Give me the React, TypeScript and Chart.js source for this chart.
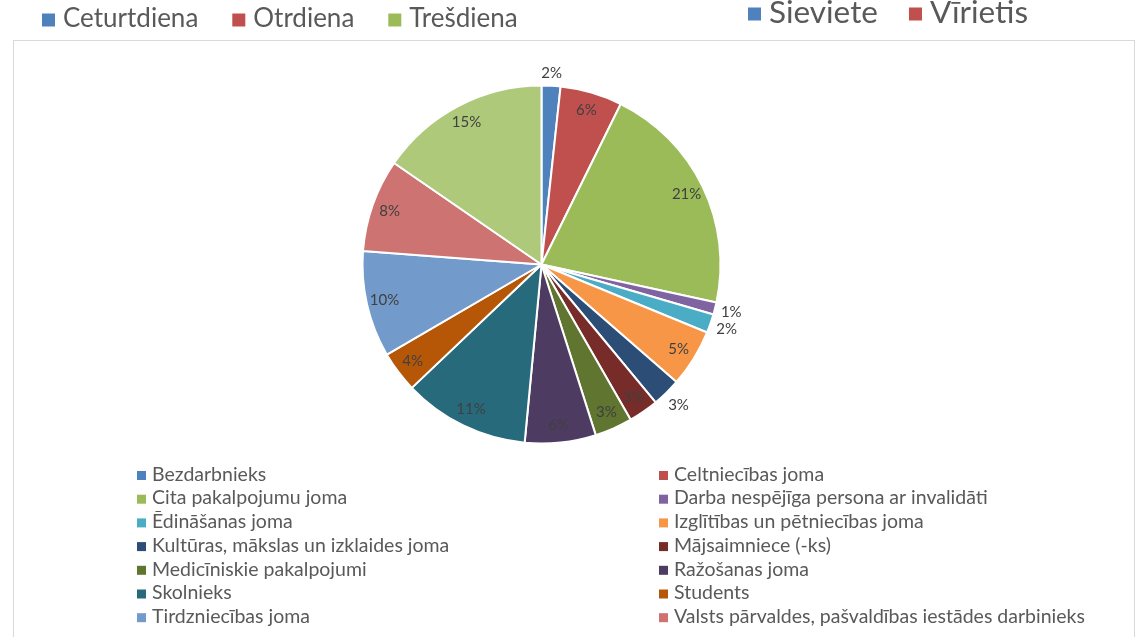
import React, { useEffect, useRef } from 'react';
import { Chart, registerables } from 'chart.js';

Chart.register(...registerables);

// ---- data ----
const categories = [
  'Bezdarbnieks',
  'Celtniecības joma',
  'Cita pakalpojumu joma',
  'Darba nespējīga persona ar invalidāti',
  'Ēdināšanas joma',
  'Izglītības un pētniecības joma',
  'Kultūras, mākslas un izklaides joma',
  'Mājsaimniece (-ks)',
  'Medicīniskie pakalpojumi',
  'Ražošanas joma',
  'Skolnieks',
  'Students',
  'Tirdzniecības joma',
  'Valsts pārvaldes, pašvaldības iestādes darbinieks',
  '', // 15th category: its legend row is cut off in the reference
];
const shares = [1.7, 5.6, 21.1, 1.1, 1.7, 5.2, 2.6, 2.7, 3.4, 6.4, 11.4, 3.7, 9.6, 8.4, 15.4];
const sliceColors = [
  '#4F81BD', '#C0504D', '#9BBB59', '#8064A2', '#4BACC6', '#F79646',
  '#2C4D75', '#772C2A', '#5F7530', '#4D3B62', '#276A7C', '#B65708',
  '#729ACA', '#CD7371', '#AFC97A',
];
const outsideLabels = [0, 3, 4, 6];

const dayLegend = ['Ceturtdiena', 'Otrdiena', 'Trešdiena'];
const dayColors = ['#4F81BD', '#C0504D', '#9BBB59'];
const genderLegend = ['Sieviete', 'Vīrietis'];
const genderColors = ['#4F81BD', '#C0504D'];

const FONT = 'Lato, "Open Sans", sans-serif';

const framePlugin = {
  id: 'frame',
  beforeDraw(chart: any) {
    const ctx = chart.ctx;
    ctx.save();
    ctx.fillStyle = '#ffffff';
    ctx.fillRect(0, 0, chart.width, chart.height);
    ctx.strokeStyle = '#D9D9D9';
    ctx.lineWidth = 1;
    ctx.strokeRect(13.5, 40.5, 1121, 700);

    // cropped legends of neighbouring charts
    const drawRow = (labels: string[], colors: string[], x0: number, cy: number, size: number, sq: number, gap: number) => {
      ctx.font = `${size}px ${FONT}`;
      ctx.textBaseline = 'middle';
      ctx.textAlign = 'left';
      let x = x0;
      labels.forEach((t, i) => {
        ctx.fillStyle = colors[i];
        ctx.fillRect(x, cy - sq / 2 + 1, sq, sq);
        x += sq + 8;
        ctx.fillStyle = '#595959';
        ctx.fillText(t, x, cy);
        x += ctx.measureText(t).width + gap;
      });
    };
    drawRow(dayLegend, dayColors, 42, 19, 26, 13, 34);
    drawRow(genderLegend, genderColors, 748, 13, 31.5, 13, 31);
    ctx.restore();
  },
};

const labelPlugin = {
  id: 'sliceLabels',
  afterDatasetsDraw(chart: any) {
    const ctx = chart.ctx;
    const data = chart.data.datasets[0].data as number[];
    const total = data.reduce((a, b) => a + b, 0);
    const meta = chart.getDatasetMeta(0);
    ctx.save();
    ctx.font = `15px ${FONT}`;
    ctx.fillStyle = '#404040';
    ctx.textAlign = 'center';
    ctx.textBaseline = 'middle';
    meta.data.forEach((arc: any, i: number) => {
      const p = arc.getProps(['x', 'y', 'startAngle', 'endAngle', 'outerRadius'], true);
      const mid = (p.startAngle + p.endAngle) / 2;
      const text = `${Math.round((data[i] / total) * 100)}%`;
      const w = ctx.measureText(text).width;
      const h = 14;
      let r: number;
      if (outsideLabels.includes(i)) {
        r = p.outerRadius + 5 + Math.abs(Math.cos(mid)) * w / 2 + Math.abs(Math.sin(mid)) * h / 2;
      } else {
        r = p.outerRadius * 0.9;
      }
      ctx.fillText(text, p.x + Math.cos(mid) * r, p.y + Math.sin(mid) * r);
    });
    ctx.restore();
  },
};

const legendPlugin = {
  id: 'twoColLegend',
  afterDraw(chart: any) {
    const ctx = chart.ctx;
    const labels = chart.data.labels as string[];
    const colors = chart.data.datasets[0].backgroundColor as string[];
    ctx.save();
    ctx.font = `19.5px ${FONT}`;
    ctx.textBaseline = 'middle';
    ctx.textAlign = 'left';
    labels.forEach((t, i) => {
      if (!t) return;
      const col = i % 2;
      const row = Math.floor(i / 2);
      const sx = col === 0 ? 137 : 659;
      const cy = 474.5 + row * 23.7;
      ctx.fillStyle = colors[i];
      ctx.fillRect(sx, cy - 3.5, 9, 9);
      ctx.fillStyle = '#595959';
      ctx.fillText(t, sx + 15, cy);
    });
    ctx.restore();
  },
};

export default function App() {
  const ref = useRef<HTMLCanvasElement | null>(null);
  useEffect(() => {
    if (!ref.current) return;
    const chart = new Chart(ref.current, {
      type: 'pie',
      data: {
        labels: categories,
        datasets: [
          {
            data: shares,
            backgroundColor: sliceColors,
            borderColor: '#ffffff',
            borderWidth: 2,
          },
        ],
      },
      options: {
        responsive: false,
        animation: false,
        devicePixelRatio: 1,
        rotation: 0,
        layout: { padding: { left: 361.5, right: 418.5, top: 84.5, bottom: 192.5 } },
        plugins: {
          legend: { display: false },
          tooltip: { enabled: false },
        },
      },
      plugins: [framePlugin, labelPlugin, legendPlugin],
    });
    return () => chart.destroy();
  }, []);
  return (
    <div style={{ position: 'absolute', left: 0, top: 0, width: 1140, height: 637, overflow: 'hidden', background: '#fff' }}>
      <canvas ref={ref} width={1140} height={637} style={{ display: 'block', width: 1140, height: 637 }} />
    </div>
  );
}
